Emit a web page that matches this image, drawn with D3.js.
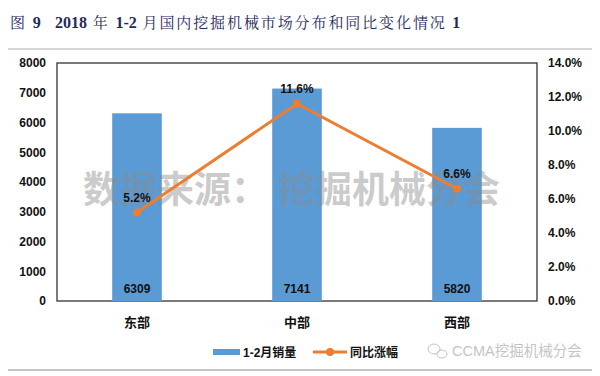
<!DOCTYPE html>
<html>
<head>
<meta charset="utf-8">
<script src="https://cdn.jsdelivr.net/npm/d3@7"></script>
<style>
  body { margin: 0; background: #fff; }
  svg { display: block; font-family: Arial, "Liberation Sans", "Noto Sans CJK SC", sans-serif; }
</style>
</head>
<body>
<div id="chart"></div>
<script>
// data
const regions = ["东部", "中部", "西部"];
const sales = [6309, 7141, 5820];
const growth = [0.052, 0.116, 0.066];
const leftTicks = [0, 1000, 2000, 3000, 4000, 5000, 6000, 7000, 8000];
const rightTicks = [0, 0.02, 0.04, 0.06, 0.08, 0.10, 0.12, 0.14];

const width = 600, height = 376;
const margin = { top: 63, right: 63, bottom: 75, left: 57 };

const svg = d3.select("#chart").append("svg")
  .attr("width", width)
  .attr("height", height);

// title, mixed bold latin / regular chinese like the source report
const title = svg.append("text")
  .attr("x", 10).attr("y", 28)
  .attr("font-family", "'Liberation Serif', 'Noto Serif CJK SC', 'Noto Sans CJK SC', serif")
  .attr("font-size", 15)
  .attr("fill", "#1f2a5c");
title.append("tspan").attr("letter-spacing", 2).text("图 ");
title.append("tspan").attr("font-weight", "bold").attr("font-size", 16).text("9");
title.append("tspan").attr("x", 55).attr("font-weight", "bold").attr("font-size", 16).text("2018");
title.append("tspan").attr("letter-spacing", 2).text(" 年 ");
title.append("tspan").attr("font-weight", "bold").attr("font-size", 16).text("1-2");
title.append("tspan").attr("letter-spacing", 1.9).text(" 月国内挖掘机械市场分布和同比变化情况 ");
title.append("tspan").attr("font-weight", "bold").attr("font-size", 16).text("1");

svg.append("line").attr("x1", 8).attr("x2", 592).attr("y1", 49).attr("y2", 49)
  .attr("stroke", "#c8c8c8").attr("stroke-width", 1.5);
svg.append("line").attr("x1", 8).attr("x2", 592).attr("y1", 370).attr("y2", 370)
  .attr("stroke", "#b0b0b0").attr("stroke-width", 1.5);

const x = d3.scaleBand()
  .domain(regions)
  .range([margin.left, width - margin.right])
  .paddingInner(0.69).paddingOuter(0.345);

const y = d3.scaleLinear().domain([0, 8000]).range([height - margin.bottom, margin.top]);
const y2 = d3.scaleLinear().domain([0, 0.14]).range([height - margin.bottom, margin.top]);

// plot frame
svg.append("rect")
  .attr("x", margin.left).attr("y", margin.top)
  .attr("width", width - margin.left - margin.right)
  .attr("height", height - margin.top - margin.bottom)
  .attr("fill", "none").attr("stroke", "#333").attr("stroke-width", 1.3);

// axes
const leftAxis = svg.append("g")
  .attr("transform", `translate(${margin.left},0)`)
  .call(d3.axisLeft(y).tickValues(leftTicks).tickSize(0).tickPadding(11).tickFormat(d3.format("d")));
const rightAxis = svg.append("g")
  .attr("transform", `translate(${width - margin.right},0)`)
  .call(d3.axisRight(y2).tickValues(rightTicks).tickSize(0).tickPadding(11).tickFormat(d3.format(".1%")));
[leftAxis, rightAxis].forEach(a => {
  a.select(".domain").remove();
  a.selectAll("text").attr("font-size", 12).attr("font-weight", "bold").attr("fill", "#111")
    .attr("font-family", "Arial, 'Liberation Sans', sans-serif");
});

// category labels
svg.append("g").selectAll("text").data(regions).join("text")
  .attr("x", d => x(d) + x.bandwidth() / 2)
  .attr("y", height - margin.bottom + 26)
  .attr("text-anchor", "middle")
  .attr("font-size", 13).attr("font-weight", "bold").attr("fill", "#111")
  .text(d => d);

// bars
svg.append("g").selectAll("rect").data(sales).join("rect")
  .attr("x", (d, i) => x(regions[i]))
  .attr("y", d => y(d))
  .attr("width", x.bandwidth())
  .attr("height", d => y(0) - y(d))
  .attr("fill", "#5b9bd5");

svg.append("g").selectAll("text").data(sales).join("text")
  .attr("x", (d, i) => x(regions[i]) + x.bandwidth() / 2)
  .attr("y", y(0) - 8)
  .attr("text-anchor", "middle")
  .attr("font-size", 12).attr("font-weight", "bold").attr("fill", "#111")
  .text(d => d);

// watermark across the plot (it sits behind the line in the source too)
const wmText = svg.append("g")
  .attr("font-family", "'Noto Sans CJK SC', sans-serif")
  .attr("font-size", 37).attr("font-weight", "bold")
  .attr("fill", "#8a8a8a").attr("fill-opacity", 0.45);
wmText.append("text").attr("x", 83).attr("y", 203).text("数据来源：");
wmText.append("text").attr("x", 278).attr("y", 203).text("挖掘机械分会");

// growth line
const cx = i => x(regions[i]) + x.bandwidth() / 2;
const line = d3.line().x((d, i) => cx(i)).y(d => y2(d));
svg.append("path").datum(growth)
  .attr("d", line)
  .attr("fill", "none").attr("stroke", "#ed7d31").attr("stroke-width", 3);
svg.append("g").selectAll("circle").data(growth).join("circle")
  .attr("cx", (d, i) => cx(i)).attr("cy", d => y2(d)).attr("r", 4)
  .attr("fill", "#ed7d31");
svg.append("g").selectAll("text").data(growth).join("text")
  .attr("x", (d, i) => cx(i))
  .attr("y", d => y2(d) - 11)
  .attr("text-anchor", "middle")
  .attr("font-size", 12).attr("font-weight", "bold").attr("fill", "#111")
  .text(d => d3.format(".1%")(d));

// legend
const lg = svg.append("g").attr("transform", "translate(0,352)");
lg.append("rect").attr("x", 213).attr("y", -3).attr("width", 27).attr("height", 6).attr("fill", "#5b9bd5");
lg.append("text").attr("x", 243).attr("y", 5).attr("font-size", 12).attr("font-weight", "bold").attr("fill", "#111").text("1-2月销量");
lg.append("line").attr("x1", 313).attr("x2", 347).attr("y1", 0).attr("y2", 0).attr("stroke", "#ed7d31").attr("stroke-width", 3);
lg.append("circle").attr("cx", 330).attr("cy", 0).attr("r", 4).attr("fill", "#ed7d31");
lg.append("text").attr("x", 350).attr("y", 5).attr("font-size", 12).attr("font-weight", "bold").attr("fill", "#111").text("同比涨幅");

// wechat-ish icon + account name
const wm = svg.append("g").attr("fill", "none").attr("stroke", "#c4c4c4").attr("stroke-width", 1);
wm.append("ellipse").attr("cx", 434).attr("cy", 349).attr("rx", 6).attr("ry", 5);
wm.append("ellipse").attr("cx", 442).attr("cy", 354).attr("rx", 5).attr("ry", 4);
svg.append("text").attr("x", 452).attr("y", 356)
  .attr("font-size", 14.5).attr("fill", "#c4c4c4")
  .text("CCMA挖掘机械分会");
</script>
</body>
</html>
